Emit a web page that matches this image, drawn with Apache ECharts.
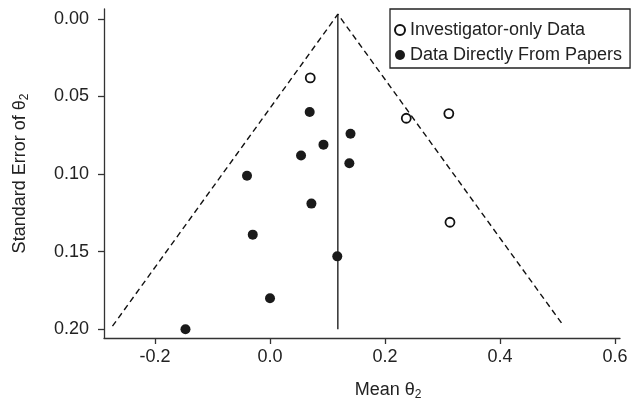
<!DOCTYPE html>
<html>
<head>
<meta charset="utf-8">
<script src="https://cdn.jsdelivr.net/npm/echarts@6/dist/echarts.min.js"></script>
<style>
html,body{margin:0;padding:0;background:#fff;}
#chart{width:633px;height:399px;}
</style>
</head>
<body>
<div id="chart"></div>
<script>
// Data
const investigatorMean = [0.070, 0.237, 0.311, 0.313];
const investigatorSE   = [0.038, 0.064, 0.061, 0.131];
const papersMean = [0.069, 0.140, 0.093, 0.054, 0.138, -0.040, 0.072, -0.030, 0.117, 0.000, -0.147];
const papersSE   = [0.060, 0.074, 0.081, 0.088, 0.093, 0.101, 0.119, 0.139, 0.153, 0.180, 0.200];
const pooledMean = 0.118;
const funnelMean = [-0.274, 0.118, 0.511];
const funnelSE   = [0.198, -0.003, 0.198];
const meanLineSE = [-0.003, 0.200];
const xTicks = [-0.2, 0.0, 0.2, 0.4, 0.6];
const yTicks = [0.00, 0.05, 0.10, 0.15, 0.20];
const legendNames = ['Investigator-only Data', 'Data Directly From Papers'];

const FONT = '"Liberation Sans", Arial, Helvetica, sans-serif';
const TXT = '#222';
const zip = (a, b) => a.map((v, i) => [v, b[i]]);

const chart = echarts.init(document.getElementById('chart'), null, {renderer: 'canvas'});
chart.setOption({
  animation: false,
  backgroundColor: '#fff',
  textStyle: {fontFamily: FONT},
  grid: {left: 104, top: 9, right: 13, bottom: 61, containLabel: false, outerBoundsMode: 'none'},
  xAxis: {
    type: 'value', min: -0.2887, max: 0.6087,
    splitLine: {show: false},
    axisLine: {show: true, onZero: false, lineStyle: {color: '#333', width: 1.3}},
    axisTick: {show: true, length: 6, customValues: xTicks, lineStyle: {color: '#333', width: 1.3}},
    axisLabel: {customValues: xTicks, color: TXT, fontSize: 18, fontFamily: FONT, margin: 10,
      formatter: v => v.toFixed(1)},
    name: 'Mean θ{sub|2}',
    nameLocation: 'middle', nameGap: 41,
    nameTextStyle: {color: TXT, fontSize: 18, fontFamily: FONT, padding: [0, 0, 0, 52],
      rich: {sub: {fontSize: 12, color: TXT, fontFamily: FONT, verticalAlign: 'bottom', padding: [10, 0, 0, 0]}}}
  },
  yAxis: {
    type: 'value', inverse: true, min: -0.0064, max: 0.2056,
    splitLine: {show: false},
    axisLine: {show: true, onZero: false, lineStyle: {color: '#333', width: 1.3}},
    axisTick: {show: true, length: 6, customValues: yTicks, lineStyle: {color: '#333', width: 1.3}},
    axisLabel: {customValues: yTicks, color: TXT, fontSize: 18, fontFamily: FONT, margin: 15,
      formatter: v => v.toFixed(2)},
    name: 'Standard Error of θ{sub|2}',
    nameLocation: 'middle', nameGap: 73, nameRotate: 90,
    nameTextStyle: {color: TXT, fontSize: 18, fontFamily: FONT,
      rich: {sub: {fontSize: 12, color: TXT, fontFamily: FONT, verticalAlign: 'bottom', padding: [10, 0, 0, 0]}}}
  },
  legend: {
    show: true, orient: 'vertical', left: 390, top: 9,
    data: legendNames,
    backgroundColor: '#fff',
    borderColor: '#222', borderWidth: 1.3, borderRadius: 0,
    padding: [12, 8, 4, 4],
    itemWidth: 10, itemHeight: 10, itemGap: 7, itemTextGap: 5,
    icon: 'circle',
    textStyle: {color: TXT, fontSize: 18, fontFamily: FONT}
  },
  series: [
    {
      type: 'line', name: 'funnel', data: zip(funnelMean, funnelSE),
      symbol: 'none', silent: true, z: 1,
      lineStyle: {color: '#111', width: 1.4, type: [6, 4]}
    },
    {
      type: 'line', name: 'pooled', data: zip([pooledMean, pooledMean], meanLineSE),
      symbol: 'none', silent: true, z: 1,
      lineStyle: {color: '#111', width: 1.3}
    },
    {
      type: 'scatter', name: legendNames[0], data: zip(investigatorMean, investigatorSE),
      symbol: 'circle', symbolSize: 9, z: 3,
      itemStyle: {color: '#fff', borderColor: '#111', borderWidth: 1.8, opacity: 1}
    },
    {
      type: 'scatter', name: legendNames[1], data: zip(papersMean, papersSE),
      symbol: 'circle', symbolSize: 10, z: 3,
      itemStyle: {color: '#1a1a1a', opacity: 1}
    }
  ]
});
</script>
</body>
</html>
